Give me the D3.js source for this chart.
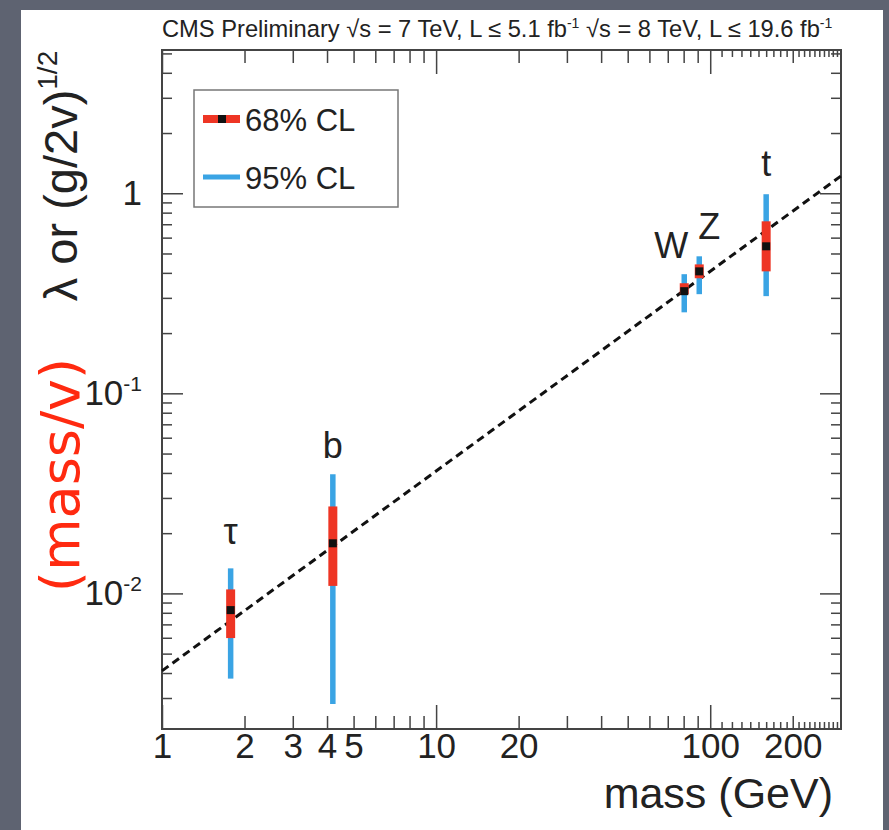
<!DOCTYPE html>
<html>
<head>
<meta charset="utf-8">
<script src="https://cdn.jsdelivr.net/npm/d3@7"></script>
<style>
  body { margin: 0; background: #5e6371; }
  svg { display: block; }
  text { font-family: "Liberation Sans", Arial, sans-serif; fill: #222; }
</style>
</head>
<body>
<svg width="889" height="830"></svg>
<script>
var particles = ["τ", "b", "W", "Z", "t"];
var mass      = [1.78, 4.2, 80.4, 91.2, 160];
var central   = [0.00825, 0.0178, 0.324, 0.407, 0.543];
var lo68      = [0.00598, 0.0109, 0.313, 0.376, 0.407];
var hi68      = [0.01047, 0.0272, 0.355, 0.441, 0.724];
var lo95      = [0.00375, 0.0028, 0.254, 0.313, 0.306];
var hi95      = [0.01334, 0.0394, 0.394, 0.484, 0.989];

// SM expectation line (mass / v), end points
var smMass  = [1, 300];
var smValue = [0.0041, 1.22];

// axis ticks
var xMajor  = [1, 10, 100];
var xMinor  = [2, 3, 4, 5, 6, 7, 8, 9, 20, 30, 40, 50, 60, 70, 80, 90, 200];
var xFine   = [110, 120, 130, 140, 150, 160, 170, 180, 190, 210, 220, 230, 240, 250, 260, 270, 280, 290];
var xLabels = [1, 2, 3, 4, 5, 10, 20, 100, 200];
var yMajor  = [0.01, 0.1, 1];
var yMinor  = [0.003, 0.004, 0.005, 0.006, 0.007, 0.008, 0.009,
               0.02, 0.03, 0.04, 0.05, 0.06, 0.07, 0.08, 0.09,
               0.2, 0.3, 0.4, 0.5, 0.6, 0.7, 0.8, 0.9, 2, 3, 4, 5];
var yLabels = [{v: 1, base: "1", exp: ""}, {v: 0.1, base: "10", exp: "-1"}, {v: 0.01, base: "10", exp: "-2"}];

var svg = d3.select("svg");
var pLeft = 162, pRight = 841, pTop = 50, pBottom = 729;

var x = d3.scaleLog().domain([1, 300]).range([pLeft, pRight]);
var y = d3.scaleLog().domain([0.0021, 5.2]).range([pBottom, pTop]);

var red = "#ee3524", blue = "#3aa4e4";

// slide background + white panel
svg.append("rect").attr("width", 889).attr("height", 830).attr("fill", "#5e6371");
svg.append("rect").attr("x", 21).attr("y", 10).attr("width", 862).attr("height", 820).attr("fill", "#fff");

// header
var head = svg.append("text").attr("x", 162).attr("y", 37).style("font-size", "23.7px");
head.append("tspan").text("CMS Preliminary   √s = 7 TeV, L ≤ 5.1 fb");
head.append("tspan").attr("dy", -9).style("font-size", "14px").text("-1");
head.append("tspan").attr("dy", 9).text(" √s = 8 TeV, L ≤ 19.6 fb");
head.append("tspan").attr("dy", -9).style("font-size", "14px").text("-1");

// ticks, all pointing inward
function ticks(axisFn, scale, vals, len, tx, ty) {
  svg.append("g")
    .attr("transform", "translate(" + tx + "," + ty + ")")
    .call(axisFn(scale).tickValues(vals).tickSize(len).tickFormat(""))
    .call(function(g) {
      g.select(".domain").remove();
      g.selectAll("line").attr("stroke", "#444").attr("stroke-width", 1.5);
    });
}
ticks(d3.axisBottom, x, xMajor, -24, 0, pBottom);
ticks(d3.axisBottom, x, xMinor, -13, 0, pBottom);
ticks(d3.axisBottom, x, xFine, -7, 0, pBottom);
ticks(d3.axisTop, x, xMajor, -24, 0, pTop);
ticks(d3.axisTop, x, xMinor, -13, 0, pTop);
ticks(d3.axisTop, x, xFine, -7, 0, pTop);
ticks(d3.axisLeft, y, yMajor, -21, pLeft, 0);
ticks(d3.axisLeft, y, yMinor, -10, pLeft, 0);
ticks(d3.axisRight, y, yMajor, -21, pRight, 0);
ticks(d3.axisRight, y, yMinor, -10, pRight, 0);

// x labels
svg.append("g")
  .attr("transform", "translate(0," + pBottom + ")")
  .call(d3.axisBottom(x).tickValues(xLabels).tickSize(0).tickPadding(4).tickFormat(d3.format("d")))
  .call(function(g) {
    g.select(".domain").remove();
    g.selectAll("text").attr("fill", "#222").style("font-size", "35px")
      .style("font-family", "'Liberation Sans', Arial, sans-serif");
  });

// y labels with exponents
var yl = svg.append("g").selectAll("text").data(yLabels).join("text")
  .attr("x", 142)
  .attr("y", function(d) { return y(d.v) + 12; })
  .attr("text-anchor", "end")
  .style("font-size", "35px");
yl.append("tspan").text(function(d) { return d.base; });
yl.append("tspan").attr("dy", -14).style("font-size", "21px").text(function(d) { return d.exp; });

// frame
svg.append("rect").attr("x", pLeft).attr("y", pTop)
  .attr("width", pRight - pLeft).attr("height", pBottom - pTop)
  .attr("fill", "none").attr("stroke", "#444").attr("stroke-width", 2);

// SM line
var line = d3.line().x(function(d) { return x(d[0]); }).y(function(d) { return y(d[1]); });
svg.append("path")
  .attr("d", line(d3.zip(smMass, smValue)))
  .attr("fill", "none").attr("stroke", "#111").attr("stroke-width", 3)
  .attr("stroke-dasharray", "8,5");

// error bars
var idx = d3.range(particles.length);
svg.append("g").selectAll("line").data(idx).join("line")
  .attr("x1", function(i) { return x(mass[i]); }).attr("x2", function(i) { return x(mass[i]); })
  .attr("y1", function(i) { return y(lo95[i]); }).attr("y2", function(i) { return y(hi95[i]); })
  .attr("stroke", blue).attr("stroke-width", 5.5);
svg.append("g").selectAll("line").data(idx).join("line")
  .attr("x1", function(i) { return x(mass[i]); }).attr("x2", function(i) { return x(mass[i]); })
  .attr("y1", function(i) { return y(lo68[i]); }).attr("y2", function(i) { return y(hi68[i]); })
  .attr("stroke", red).attr("stroke-width", 9);
svg.append("g").selectAll("rect").data(idx).join("rect")
  .attr("x", function(i) { return x(mass[i]) - 4; })
  .attr("y", function(i) { return y(central[i]) - 4; })
  .attr("width", 8).attr("height", 8).attr("fill", "#111");

// particle names
var labelDx = [0, 0, -13, 10, 0], labelDy = [-24, -16, -16, -17, -18];
svg.append("g").selectAll("text").data(idx).join("text")
  .attr("x", function(i) { return x(mass[i]) + labelDx[i]; })
  .attr("y", function(i) { return y(hi95[i]) + labelDy[i]; })
  .attr("text-anchor", "middle")
  .style("font-size", "36px")
  .text(function(i) { return particles[i]; });

// legend
svg.append("rect").attr("x", 194).attr("y", 90).attr("width", 204).attr("height", 117)
  .attr("fill", "#fff").attr("stroke", "#777").attr("stroke-width", 1.5);
svg.append("line").attr("x1", 203).attr("x2", 240).attr("y1", 119).attr("y2", 119)
  .attr("stroke", red).attr("stroke-width", 8);
svg.append("rect").attr("x", 218).attr("y", 115).attr("width", 8).attr("height", 8).attr("fill", "#111");
svg.append("line").attr("x1", 203).attr("x2", 240).attr("y1", 177).attr("y2", 177)
  .attr("stroke", blue).attr("stroke-width", 5);
svg.append("text").attr("x", 245).attr("y", 131).style("font-size", "31px").text("68% CL");
svg.append("text").attr("x", 245).attr("y", 189).style("font-size", "31px").text("95% CL");

// axis titles
svg.append("text").attr("x", 833).attr("y", 808).attr("text-anchor", "end")
  .style("font-size", "43px").text("mass (GeV)");
var yt = svg.append("text")
  .attr("transform", "translate(77,176) rotate(-90)")
  .attr("text-anchor", "middle")
  .style("font-size", "47px");
yt.append("tspan").text("λ or (g/2v)");
yt.append("tspan").attr("dy", -20).style("font-size", "28px").text("1/2");

// slide annotation
svg.append("text")
  .attr("transform", "translate(79,475) rotate(-90)")
  .attr("text-anchor", "middle")
  .style("font-family", "'DejaVu Sans', sans-serif")
  .style("font-size", "54px")
  .style("fill", "#ff2a10")
  .text("(mass/v)");
</script>
</body>
</html>
